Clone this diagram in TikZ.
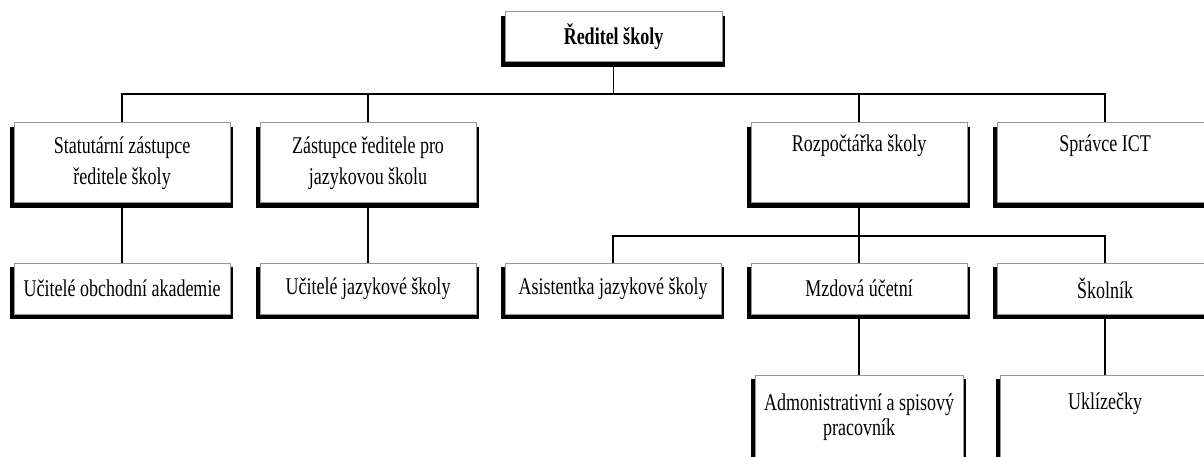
\documentclass[tikz,border=0pt]{standalone}
\usepackage{fontspec}
\newfontfamily\orgfont[FakeStretch=0.75]{Liberation Serif}
\usetikzlibrary{backgrounds}
\definecolor{bordergray}{RGB}{150,150,150}
\newcommand\orgbox[7]{% name, cx, cy, w, h, baselineskip, text
  \fill[black] ({#2-#4/2-4.5},{#3-#5/2+4}) rectangle ({#2+#4/2+2.5},{#3+#5/2+5});
  \node[obox, minimum width=#4pt, minimum height=#5pt,
        font={\orgfont\fontsize{24}{#6}\selectfont}] (#1) at (#2,#3) {#7};
}
\begin{document}
\begin{tikzpicture}[x=1pt,y=-1pt,
  obox/.style={draw=bordergray, line width=1pt, fill=white, inner sep=0pt, align=center},
  conn/.style={line width=1.8pt, black}]
\useasboundingbox (0,0) rectangle (1204,457);
\clip (0,0) rectangle (1204,457);
\orgbox{top}{613.5}{37}{217}{50}{29}{\bfseries Ředitel školy}
\orgbox{s1}{122}{163}{216}{80}{31}{Statutární zástupce\\ředitele školy}
\orgbox{s2}{368}{163}{216}{80}{31}{Zástupce ředitele pro\\jazykovou školu}
\orgbox{r}{859}{163}{216}{80}{31}{Rozpočtářka školy\\\strut}
\orgbox{ict}{1105}{163}{216}{80}{31}{Správce ICT\\\strut}
\orgbox{u1}{122}{288.5}{216}{51}{29}{Učitelé obchodní akademie}
\orgbox{u2}{368}{288.5}{216}{51}{29}{Učitelé jazykové školy}
\orgbox{as}{613}{288.5}{216}{51}{29}{Asistentka jazykové školy}
\orgbox{mz}{859}{288.5}{216}{51}{29}{Mzdová účetní}
\orgbox{sk}{1105}{288.5}{216}{51}{29}{Školník}
\orgbox{adm}{859}{417.5}{208}{85}{25}{Admonistrativní a spisový\\pracovník}
\orgbox{ukl}{1105}{417.5}{210}{85}{25}{Uklízečky\\\strut}
\begin{scope}[on background layer]
  \coordinate (bus1) at (0,94);
  \coordinate (bus2) at (0,236);
  \draw[conn] (top.south) -- (top.south |- bus1);
  \draw[conn] (s1.north) -- (s1.north |- bus1) -- (ict.north |- bus1) -- (ict.north);
  \draw[conn] (s2.north) -- (s2.north |- bus1);
  \draw[conn] (r.north) -- (r.north |- bus1);
  \draw[conn] (s1.south) -- (u1.north);
  \draw[conn] (s2.south) -- (u2.north);
  \draw[conn] (r.south) -- (r.south |- bus2);
  \draw[conn] (as.north) -- (as.north |- bus2) -- (sk.north |- bus2) -- (sk.north);
  \draw[conn] (mz.north) -- (mz.north |- bus2);
  \draw[conn] (mz.south) -- (adm.north);
  \draw[conn] (sk.south) -- (ukl.north);
\end{scope}
\end{tikzpicture}
\end{document}
